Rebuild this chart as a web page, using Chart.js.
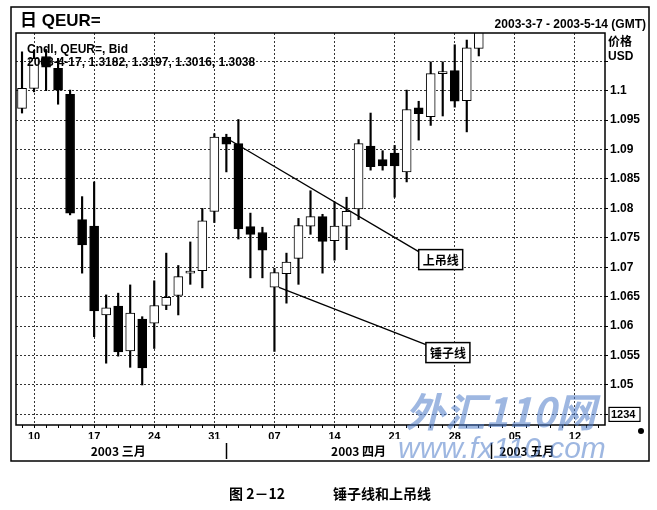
<!DOCTYPE html>
<html>
<head>
<meta charset="utf-8">
<script src="https://cdn.jsdelivr.net/npm/chart.js@4.4.1/dist/chart.umd.min.js"></script>
<style>
  html, body { margin: 0; padding: 0; background: #fff; }
  #wrap { position: relative; width: 657px; height: 510px; }
</style>
</head>
<body>
<div id="wrap"><canvas id="candleChart" width="657" height="510"></canvas></div>
<script>
// trading days shown on the axis
const dates = [
  '2003-03-07', '2003-03-10', '2003-03-11', '2003-03-12', '2003-03-13', '2003-03-14',
  '2003-03-17', '2003-03-18', '2003-03-19', '2003-03-20', '2003-03-21',
  '2003-03-24', '2003-03-25', '2003-03-26', '2003-03-27', '2003-03-28', '2003-03-31',
  '2003-04-01', '2003-04-02', '2003-04-03', '2003-04-04',
  '2003-04-07', '2003-04-08', '2003-04-09', '2003-04-10', '2003-04-11',
  '2003-04-14', '2003-04-15', '2003-04-16', '2003-04-17', '2003-04-18',
  '2003-04-21', '2003-04-22', '2003-04-23', '2003-04-24', '2003-04-25',
  '2003-04-28', '2003-04-29', '2003-04-30',
  '2003-05-01', '2003-05-02', '2003-05-05', '2003-05-06', '2003-05-07', '2003-05-08', '2003-05-09',
  '2003-05-12', '2003-05-13', '2003-05-14'
];

const openPrices = [
  1.0970, 1.1004, 1.1058, 1.1038, 1.0994, 1.0781,
  1.0770, 1.0619, 1.0634, 1.0558, 1.0612,
  1.0605, 1.0635, 1.0652, 1.0690, 1.0694, 1.0795,
  1.0921, 1.0910, 1.0769, 1.0759,
  1.0666, 1.0689, 1.0715, 1.0770, 1.0786,
  1.0745, 1.0770, 1.0799, 1.0906, 1.0883,
  1.0894, 1.0862, 1.0971, 1.0956, 1.1029,
  1.1034, 1.0983, 1.1072,
  null, null, null, null, null, null, null, null, null, null
];
const highPrices = [
  1.1066, 1.1069, 1.1070, 1.1055, 1.1001, 1.0820,
  1.0845, 1.0653, 1.0656, 1.0670, 1.0616,
  1.0677, 1.0724, 1.0703, 1.0743, 1.0800, 1.0927,
  1.0926, 1.0951, 1.0792, 1.0768,
  1.0698, 1.0724, 1.0783, 1.0830, 1.0790,
  1.0811, 1.0819, 1.0917, 1.0962, 1.0898,
  1.0907, 1.1001, 1.0982, 1.1049, 1.1049,
  1.1078, 1.1086, 1.1140,
  null, null, null, null, null, null, null, null, null, null
];
const lowPrices = [
  1.0962, 1.0998, 1.1000, 1.0977, 1.0789, 1.0690,
  1.0582, 1.0537, 1.0549, 1.0530, 1.0500,
  1.0562, 1.0628, 1.0619, 1.0671, 1.0665, 1.0776,
  1.0862, 1.0748, 1.0682, 1.0682,
  1.0557, 1.0639, 1.0671, 1.0756, 1.0690,
  1.0712, 1.0730, 1.0781, 1.0865, 1.0865,
  1.0819, 1.0845, 1.0916, 1.0941, 1.0957,
  1.0972, 1.0930, 1.1059,
  null, null, null, null, null, null, null, null, null, null
];
const closePrices = [
  1.1004, 1.1055, 1.1040, 1.1001, 1.0792, 1.0738,
  1.0626, 1.0631, 1.0556, 1.0622, 1.0529,
  1.0635, 1.0649, 1.0684, 1.0692, 1.0779, 1.0921,
  1.0909, 1.0765, 1.0756, 1.0729,
  1.0691, 1.0709, 1.0771, 1.0786, 1.0744,
  1.0770, 1.0795, 1.0910, 1.0871, 1.0872,
  1.0872, 1.0968, 1.0961, 1.1029, 1.1031,
  1.0982, 1.1073, 1.1125,
  null, null, null, null, null, null, null, null, null, null
];

const priceTicks = [1.045, 1.05, 1.055, 1.06, 1.065, 1.07, 1.075, 1.08, 1.085, 1.09, 1.095, 1.1, 1.105];
const monthNames = ['2003 三月', '2003 四月', '2003 五月'];
const monthLabelAt = [8, 28, 42];      // category index where each month name sits
const monthStartAt = [17, 39];         // first day of April and May

// the two annotated candles
const notes = [
  { text: '上吊线', candle: 17, from: 'mid', boxIndex: 33, boxShift: 0, boxPrice: 1.0730 },
  { text: '锤子线', candle: 21, from: 'bottom', boxIndex: 33, boxShift: 0.6, boxPrice: 1.0572 }
];

const LATIN = '"Liberation Sans", Arial, "Noto Sans CJK SC", sans-serif';
const CJK = '"Noto Sans CJK SC", "Liberation Sans", sans-serif';

function isMonday(i) {
  return new Date(dates[i] + 'T00:00:00Z').getUTCDay() === 1;
}

const bodies = dates.map((d, i) => openPrices[i] == null ? null : [openPrices[i], closePrices[i]]);
const wicks = dates.map((d, i) => lowPrices[i] == null ? null : [lowPrices[i], highPrices[i]]);

const decor = {
  id: 'decor',
  afterDraw(chart) {
    const c = chart.ctx;
    const a = chart.chartArea;
    const xs = chart.scales.x;
    const ys = chart.scales.y;
    const step = xs.getPixelForValue(1) - xs.getPixelForValue(0);
    c.save();
    c.fillStyle = '#000';
    c.strokeStyle = '#000';

    // frames
    c.lineWidth = 1.5;
    c.strokeRect(a.left, a.top, a.right - a.left, a.bottom - a.top);
    c.strokeRect(11, 7, 638, 454);

    // header
    c.textBaseline = 'middle';
    c.textAlign = 'left';
    c.font = 'bold 17px ' + LATIN;
    c.fillText('日 QEUR=', 20, 21);
    c.font = 'bold 12px ' + LATIN;
    c.textAlign = 'right';
    c.fillText('2003-3-7 - 2003-5-14 (GMT)', 646, 25);
    c.textAlign = 'left';
    c.fillText('Cndl, QEUR=, Bid', 27, 50);
    c.fillText('2003-4-17, 1.3182, 1.3197, 1.3016, 1.3038', 27, 63);
    c.fillText('价格', 608, 43);
    c.fillText('USD', 608, 57);

    // price box at the bottom tick
    const yb = ys.getPixelForValue(1.045);
    c.lineWidth = 1.2;
    c.fillStyle = '#fff';
    c.fillRect(609, yb - 7, 31, 14);
    c.strokeRect(609, yb - 7, 31, 14);
    c.fillStyle = '#000';
    c.font = 'bold 11px ' + LATIN;
    c.fillText('1234', 611, yb + 0.5);
    c.beginPath();
    c.arc(641, 431, 3, 0, Math.PI * 2);
    c.fill();

    // months
    c.font = 'bold 12px ' + CJK;
    c.textAlign = 'center';
    monthNames.forEach((m, k) => {
      c.fillText(m, xs.getPixelForValue(monthLabelAt[k]), 451);
    });
    c.lineWidth = 1.5;
    monthStartAt.forEach(i => {
      const x = Math.round(xs.getPixelForValue(i)) + 0.5;
      c.beginPath();
      c.moveTo(x, 443);
      c.lineTo(x, 459);
      c.stroke();
    });

    // annotations
    notes.forEach(n => {
      const xc = xs.getPixelForValue(n.candle);
      const o = openPrices[n.candle], cl = closePrices[n.candle];
      const p = n.from === 'mid' ? (o + cl) / 2 : Math.min(o, cl);
      const x0 = xc + 4.5, y0 = ys.getPixelForValue(p);
      const bx = xs.getPixelForValue(n.boxIndex) + n.boxShift * step;
      const by = ys.getPixelForValue(n.boxPrice);
      c.lineWidth = 1.3;
      c.beginPath();
      c.moveTo(x0, y0);
      c.lineTo(bx, by + 2);
      c.stroke();
      c.fillStyle = '#fff';
      c.fillRect(bx, by, 44, 20);
      c.lineWidth = 1.5;
      c.strokeRect(bx, by, 44, 20);
      c.fillStyle = '#000';
      c.font = 'bold 12px ' + CJK;
      c.textAlign = 'center';
      c.fillText(n.text, bx + 22, by + 10.5);
    });

    // watermark
    c.globalAlpha = 0.55;
    c.fillStyle = '#4f7cc8';
    c.textAlign = 'left';
    c.font = 'italic bold 40px ' + CJK;
    c.fillText('外汇110网', 405, 412);
    c.font = 'italic 30px ' + LATIN;
    c.fillText('www.fx110.com', 398, 450);
    c.globalAlpha = 1;

    // caption
    c.fillStyle = '#000';
    c.textAlign = 'left';
    c.font = 'bold 14px ' + CJK;
    c.fillText('图 2－12', 229, 494);
    c.fillText('锤子线和上吊线', 333, 494);
    c.restore();
  }
};

const chartCtx = document.getElementById('candleChart').getContext('2d');

const candleChart = new Chart(chartCtx, {
  type: 'bar',
  data: {
    labels: dates,
    datasets: [
      {
        label: 'body',
        data: bodies,
        backgroundColor: ctx => closePrices[ctx.dataIndex] >= openPrices[ctx.dataIndex] ? '#fff' : '#000',
        borderColor: '#000',
        borderWidth: 1,
        borderSkipped: false,
        barThickness: 9,
        minBarLength: 2,
        grouped: false,
        order: 0
      },
      {
        label: 'wick',
        data: wicks,
        backgroundColor: '#000',
        borderWidth: 0,
        barThickness: 1.5,
        grouped: false,
        order: 1
      }
    ]
  },
  options: {
    responsive: false,
    animation: false,
    devicePixelRatio: 1,
    layout: { padding: { left: 16, top: 33, right: 12, bottom: 71 } },
    scales: {
      x: {
        offset: true,
        grid: {
          offset: false,
          color: ctx => isMonday(ctx.index) ? '#333' : 'rgba(0,0,0,0)',
          tickColor: '#000',
          tickLength: 3,
          lineWidth: 1
        },
        border: { display: false, dash: [2, 2] },
        ticks: {
          autoSkip: false,
          maxRotation: 0,
          color: '#000',
          padding: 2,
          font: { family: LATIN, size: 11, weight: 'bold' },
          callback: (v, i) => isMonday(i) ? dates[i].slice(8) : ''
        },
        afterFit: s => { s.height = 14; }
      },
      y: {
        position: 'right',
        min: 1.0432,
        max: 1.1098,
        afterBuildTicks: s => { s.ticks = priceTicks.map(v => ({ value: v })); },
        grid: { color: '#333', tickColor: '#000', tickLength: 3, lineWidth: 1 },
        border: { display: false, dash: [2, 2] },
        ticks: {
          color: '#000',
          padding: 2,
          font: { family: LATIN, size: 12, weight: 'bold' },
          callback: v => (v < 1.049 || v > 1.101) ? '' : String(Number(v.toFixed(3)))
        },
        afterFit: s => { s.width = 40; }
      }
    },
    plugins: {
      legend: { display: false },
      tooltip: { enabled: false },
      title: { display: false }
    }
  },
  plugins: [decor]
});
</script>
</body>
</html>
